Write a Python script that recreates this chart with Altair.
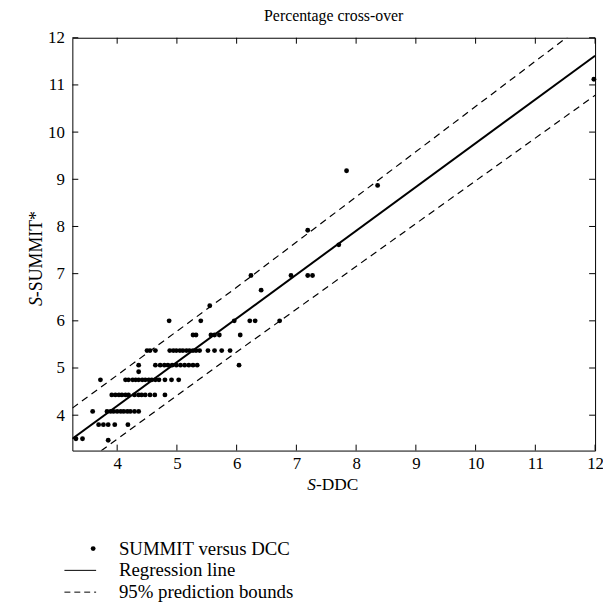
import altair as alt
import pandas as pd

# ---- data ----
x_ticks = [4, 5, 6, 7, 8, 9, 10, 11, 12]
y_ticks = [4, 5, 6, 7, 8, 9, 10, 11, 12]

sddc = [3.31, 3.42, 3.85,
        3.69, 3.77, 3.85, 3.96, 4.18,
        3.59, 3.83, 3.89, 3.94, 4.00, 4.06, 4.11, 4.17, 4.22, 4.29, 4.36,
        3.91, 3.97, 4.03, 4.08, 4.14, 4.19, 4.29, 4.36, 4.41, 4.47, 4.55, 4.63, 4.80,
        4.36, 4.36,
        3.72, 4.14, 4.19, 4.26, 4.31, 4.36, 4.42, 4.47, 4.53, 4.58, 4.64, 4.70, 4.80, 4.91, 5.03,
        4.64, 4.72, 4.79, 4.85, 4.92, 4.99, 5.06, 5.13, 5.20, 5.27, 5.34, 6.04,
        4.50, 4.55, 4.64, 4.88, 4.94, 4.99, 5.05, 5.10, 5.16, 5.21, 5.27, 5.32, 5.38, 5.52, 5.63, 5.75, 5.89,
        5.27, 5.32, 5.57, 5.63, 5.71, 6.06,
        4.87, 5.40, 5.96, 6.22, 6.31, 6.72,
        5.55, 6.41,
        6.24, 6.91, 7.19, 7.27,
        7.71, 7.19, 8.36, 7.84, 11.98]
ssummit = [3.50, 3.50, 3.47,
           3.80, 3.80, 3.80, 3.80, 3.80,
           4.08, 4.08, 4.08, 4.08, 4.08, 4.08, 4.08, 4.08, 4.08, 4.08, 4.08,
           4.43, 4.43, 4.43, 4.43, 4.43, 4.43, 4.43, 4.43, 4.43, 4.43, 4.43, 4.43, 4.43,
           4.92, 5.06,
           4.75, 4.75, 4.75, 4.75, 4.75, 4.75, 4.75, 4.75, 4.75, 4.75, 4.75, 4.75, 4.75, 4.75, 4.75,
           5.06, 5.06, 5.06, 5.06, 5.06, 5.06, 5.06, 5.06, 5.06, 5.06, 5.06, 5.06,
           5.37, 5.37, 5.37, 5.37, 5.37, 5.37, 5.37, 5.37, 5.37, 5.37, 5.37, 5.37, 5.37, 5.37, 5.37, 5.37, 5.37,
           5.70, 5.70, 5.70, 5.70, 5.70, 5.70,
           6.00, 6.00, 6.00, 6.00, 6.00, 6.00,
           6.32, 6.65,
           6.96, 6.96, 6.96, 6.96,
           7.61, 7.92, 8.87, 9.18, 11.12]

reg_x = [3.25, 12.0]
reg_y = [3.50, 11.62]
upper_x = [3.25, 6.0, 12.0]
upper_y = [4.15, 6.71, 12.46]
lower_x = [3.25, 6.0, 12.0]
lower_y = [2.80, 5.34, 10.78]

title_text = "Percentage cross-over"
legend_labels = ["SUMMIT versus DCC", "Regression line", "95% prediction bounds"]

# ---- chart ----
FONT = "Liberation Serif"
W, H = 528, 417
xs = alt.Scale(domain=[3.25, 12], nice=False, zero=False)
ys = alt.Scale(domain=[3.25, 12], nice=False, zero=False)

pts = pd.DataFrame({"x": sddc, "y": ssummit})
reg = pd.DataFrame({"x": reg_x, "y": reg_y})
up = pd.DataFrame({"x": upper_x, "y": upper_y})
lo = pd.DataFrame({"x": lower_x, "y": lower_y})

x_axis = alt.Axis(values=x_ticks, ticks=False, domain=False, grid=False, title=None,
                  labelFontSize=17, labelFont=FONT, labelColor="black", labelPadding=5,
                  labelFlush=False, labelOverlap=False)
y_axis = alt.Axis(values=y_ticks, ticks=False, domain=False, grid=False, title=None,
                  labelFontSize=17, labelFont=FONT, labelColor="black", labelPadding=8,
                  labelFlush=False, labelOverlap=False)

X = lambda f: alt.X(f, scale=xs, axis=x_axis)
Y = lambda f: alt.Y(f, scale=ys, axis=y_axis)

points = alt.Chart(pts).mark_circle(size=24, color="black", opacity=1).encode(
    x=X("x:Q"), y=Y("y:Q"))
reg_line = alt.Chart(reg).mark_line(color="black", strokeWidth=2, clip=True).encode(
    x=X("x:Q"), y=Y("y:Q"))
up_line = alt.Chart(up).mark_line(color="black", strokeWidth=1.2, strokeDash=[7, 5], clip=True).encode(
    x=X("x:Q"), y=Y("y:Q"))
lo_line = alt.Chart(lo).mark_line(color="black", strokeWidth=1.2, strokeDash=[7, 5], clip=True).encode(
    x=X("x:Q"), y=Y("y:Q"))

tx = pd.DataFrame({"x": x_ticks})
ty = pd.DataFrame({"y": y_ticks})
tick_bottom = alt.Chart(tx).mark_rule(color="black").encode(
    x=X("x:Q"), y=alt.value(H), y2=alt.value(H - 6))
tick_top = alt.Chart(tx).mark_rule(color="black").encode(
    x=X("x:Q"), y=alt.value(0), y2=alt.value(6))
tick_left = alt.Chart(ty).mark_rule(color="black").encode(
    y=Y("y:Q"), x=alt.value(0), x2=alt.value(6))
tick_right = alt.Chart(ty).mark_rule(color="black").encode(
    y=Y("y:Q"), x=alt.value(W), x2=alt.value(W - 6))

one = pd.DataFrame({"k": [0]})
title = alt.Chart(one).mark_text(text=title_text, font=FONT, fontSize=16,
                                 align="center", baseline="middle").encode(
    x=alt.value(W / 2), y=alt.value(-22))
# axis titles with italic S
xt_s = alt.Chart(one).mark_text(text="S", font=FONT, fontSize=17.5, fontStyle="italic",
                                align="right", baseline="alphabetic").encode(
    x=alt.value(246), y=alt.value(457))
xt_r = alt.Chart(one).mark_text(text="-DDC", font=FONT, fontSize=17.5,
                                align="left", baseline="alphabetic").encode(
    x=alt.value(246), y=alt.value(457))
yt_s = alt.Chart(one).mark_text(text="S", font=FONT, fontSize=18, fontStyle="italic", angle=270,
                                align="right", baseline="middle").encode(
    x=alt.value(-36), y=alt.value(262))
yt_r = alt.Chart(one).mark_text(text="-SUMMIT*", font=FONT, fontSize=18, angle=270,
                                align="left", baseline="middle").encode(
    x=alt.value(-36), y=alt.value(262))

# legend
LFS = 19
lg_dot = alt.Chart(one).mark_circle(size=24, color="black", opacity=1).encode(
    x=alt.value(21), y=alt.value(516))
lg_solid = alt.Chart(one).mark_rule(color="black", strokeWidth=1).encode(
    x=alt.value(-8), x2=alt.value(24), y=alt.value(538))
lg_dash = alt.Chart(one).mark_rule(color="black", strokeWidth=1, strokeDash=[6, 4]).encode(
    x=alt.value(-8), x2=alt.value(24), y=alt.value(560))
lg_t1 = alt.Chart(one).mark_text(text=legend_labels[0], font=FONT, fontSize=LFS, align="left",
                                 baseline="middle").encode(x=alt.value(47), y=alt.value(516))
lg_t2 = alt.Chart(one).mark_text(text=legend_labels[1], font=FONT, fontSize=LFS, align="left",
                                 baseline="middle").encode(x=alt.value(47), y=alt.value(538))
lg_t3 = alt.Chart(one).mark_text(text=legend_labels[2], font=FONT, fontSize=LFS, align="left",
                                 baseline="middle").encode(x=alt.value(47), y=alt.value(560))

chart = alt.layer(
    points, reg_line, up_line, lo_line,
    tick_bottom, tick_top, tick_left, tick_right,
    title, xt_s, xt_r, yt_s, yt_r,
    lg_dot, lg_solid, lg_dash, lg_t1, lg_t2, lg_t3,
).properties(
    width=W, height=H,
    autosize=alt.AutoSizeParams(type="none"),
    padding={"left": 65, "top": 27, "right": 8, "bottom": 160},
).configure_view(stroke="black", strokeWidth=1)

chart.save("out.html", embed_options={"renderer": "svg", "actions": False})
